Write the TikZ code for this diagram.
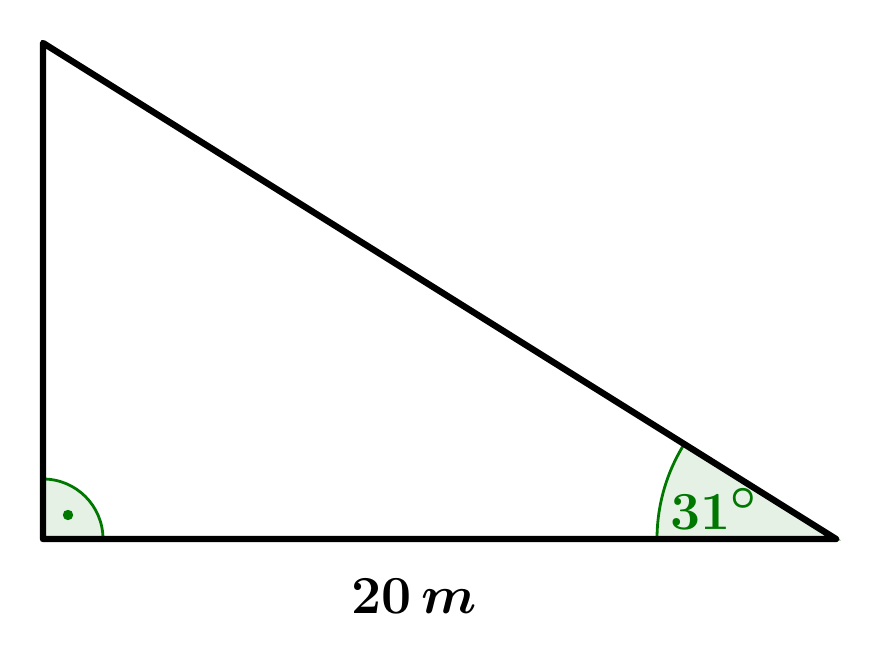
\documentclass[tikz,border=0pt]{standalone}
\usepackage{tikz}
\usetikzlibrary{calc}
\definecolor{anglegreen}{rgb}{0,0.47,0}
\tikzset{
	side/.style={line width=1.6mm, line cap=round, line join=round},
	anglemark/.style={draw=anglegreen, line width=0.7mm, fill=anglegreen, fill opacity=0.1},
	biglabel/.style={font=\Huge\boldmath, scale=1.53}
}
\begin{document}
\begin{tikzpicture}
			%%%%% START %%%%%
			\useasboundingbox[fill=white] (0, 0) rectangle (22, 16.775);
			
			\coordinate (top) at (1.075, 15.7);
			\coordinate (corner) at (1.075, 3.3);
			\coordinate (tip) at (20.9, 3.3);
			
			\draw[anglemark] (corner) -- ++(0:1.5) arc (0:90:1.5) -- cycle;
			\fill[anglegreen] ($(corner)+(0.625, 0.6)$) circle (0.13);
			
			\draw[anglemark] (tip) -- ++(180:4.475) arc (180:148:4.475) -- cycle;
			\node[biglabel, text=anglegreen] (angle) at (17.85, 4.05) {$31^\circ$};
			
			\draw[side] (top) -- (corner) -- (tip) -- cycle;
			
			\node[biglabel] (base) at (10.35, 1.875) {$20\,m$};
			%%%%% END %%%%%
\end{tikzpicture}
\end{document}
